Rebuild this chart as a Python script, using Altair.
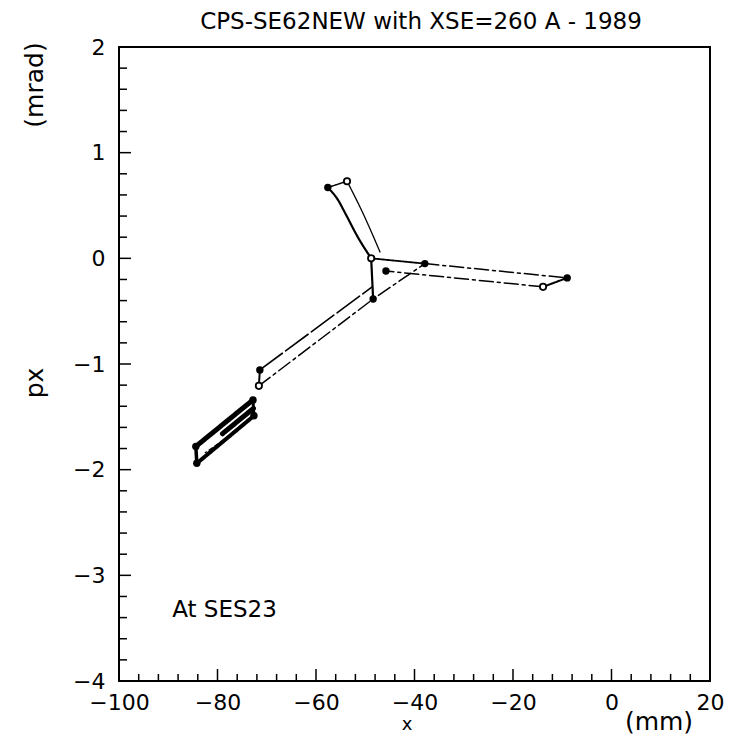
import altair as alt
import pandas as pd

# ---------------- data ----------------
# curved segments (smoothed)
thick_curve_x = [-57.6, -55.5, -54.1, -51.5, -48.8]
thick_curve_y = [0.67, 0.55, 0.43, 0.20, 0.0]
thin_curve_x = [-53.7, -50.5, -47.0]
thin_curve_y = [0.73, 0.43, 0.06]
# straight segments
stem_x = [-48.8, -48.4]
stem_y = [0.0, -0.385]
top_link_x = [-57.6, -53.7]
top_link_y = [0.67, 0.73]
right_a_x = [-48.8, -37.9]
right_a_y = [0.0, -0.05]
right_b_x = [-37.9, -9.0]
right_b_y = [-0.05, -0.185]
right_end_x = [-9.0, -13.9]
right_end_y = [-0.185, -0.27]
right_c_x = [-13.9, -45.8]
right_c_y = [-0.27, -0.12]
diag_up_x = [-71.4, -48.6]
diag_up_y = [-1.056, -0.27]
diag_low_x = [-71.6, -48.4, -37.9]
diag_low_y = [-1.207, -0.385, -0.05]
diag_link_x = [-71.4, -71.6]
diag_link_y = [-1.056, -1.207]
cluster_top_x = [-72.8, -84.4]
cluster_top_y = [-1.34, -1.78]
cluster_mid_x = [-72.7, -79.0]
cluster_mid_y = [-1.42, -1.66]
cluster_bot_x = [-72.6, -84.2]
cluster_bot_y = [-1.49, -1.94]
cluster_r_x = [-72.8, -72.6]
cluster_r_y = [-1.34, -1.49]
cluster_l_x = [-84.4, -84.2]
cluster_l_y = [-1.78, -1.94]
cluster_in_x = [-76.4, -82.5]
cluster_in_y = [-1.64, -1.84]

curves = [
    ("thick_curve", thick_curve_x, thick_curve_y, "solid", 2.2),
    ("thin_curve", thin_curve_x, thin_curve_y, "solid", 1.3),
]
segments = [
    ("stem", stem_x, stem_y, "solid", 2.2),
    ("top_link", top_link_x, top_link_y, "solid", 1.5),
    ("right_a", right_a_x, right_a_y, "solid", 1.8),
    ("right_b", right_b_x, right_b_y, "dashdot", 1.5),
    ("right_end", right_end_x, right_end_y, "solid", 2.0),
    ("right_c", right_c_x, right_c_y, "dashdot", 1.5),
    ("diag_up", diag_up_x, diag_up_y, "longdash", 1.6),
    ("diag_low", diag_low_x, diag_low_y, "dashdot", 1.5),
    ("diag_link", diag_link_x, diag_link_y, "solid", 2.0),
    ("cluster_top", cluster_top_x, cluster_top_y, "solid", 5.0),
    ("cluster_mid", cluster_mid_x, cluster_mid_y, "solid", 5.0),
    ("cluster_bot", cluster_bot_x, cluster_bot_y, "solid", 4.0),
    ("cluster_r", cluster_r_x, cluster_r_y, "solid", 3.0),
    ("cluster_l", cluster_l_x, cluster_l_y, "solid", 3.5),
    ("cluster_in", cluster_in_x, cluster_in_y, "dashed", 1.2),
]

# markers
filled_x = [-57.6, -37.9, -45.8, -9.0, -48.4, -71.4, -72.8, -72.6, -84.4, -84.2]
filled_y = [0.67, -0.05, -0.12, -0.185, -0.385, -1.056, -1.34, -1.49, -1.78, -1.94]
open_x = [-53.7, -13.9, -71.6, -48.8]
open_y = [0.73, -0.27, -1.207, 0.0]

# axes
x_ticks = [-100, -80, -60, -40, -20, 0, 20]
y_ticks = [-4, -3, -2, -1, 0, 1, 2]
x_minor = [v for v in range(-100, 21, 4) if v not in x_ticks]
y_minor = [round(-4 + 0.2 * k, 1) for k in range(31)]
y_minor = [v for v in y_minor if v not in y_ticks]

title_text = "CPS-SE62NEW with XSE=260 A - 1989"
note_text = ["At SES23"]
note_x = [-89.2]
note_y = [-3.39]


# ---------------- tables ----------------
def to_df(segs):
    rows = []
    for name, xs, ys, dash, w in segs:
        for i, (xv, yv) in enumerate(zip(xs, ys)):
            rows.append({"seg": name, "i": i, "x": xv, "y": yv, "dash": dash, "w": w})
    return pd.DataFrame(rows)


lines_df = to_df(segments)
curves_df = to_df(curves)
filled_df = pd.DataFrame({"x": filled_x, "y": filled_y})
open_df = pd.DataFrame({"x": open_x, "y": open_y})

W, H = 591, 634
FONT = "DejaVu Sans"

xscale = alt.Scale(domain=[-100, 20], nice=False, zero=False)
yscale = alt.Scale(domain=[-4, 2], nice=False, zero=False)

xaxis = alt.Axis(values=x_ticks, ticks=False, domain=False, grid=False, title=None,
                 labelFont=FONT, labelFontSize=22, labelColor="black",
                 labelPadding=11, labelFlush=False, labelOverlap=False)
yaxis = alt.Axis(values=y_ticks, ticks=False, domain=False, grid=False, title=None,
                 labelFont=FONT, labelFontSize=22, labelColor="black",
                 labelPadding=14, labelFlush=False, labelOverlap=False)


def X(field):
    return alt.X(field, scale=xscale, axis=xaxis)


def Y(field):
    return alt.Y(field, scale=yscale, axis=yaxis)


dash_enc = alt.StrokeDash(
    "dash:N",
    scale=alt.Scale(domain=["solid", "dashdot", "longdash", "dashed"],
                    range=[[1, 0], [14, 4, 3, 4], [28, 4], [4, 3]]),
    legend=None)

lines = alt.Chart(lines_df).mark_line(color="black", strokeCap="round").encode(
    x=X("x:Q"), y=Y("y:Q"), detail="seg:N", order="i:Q",
    strokeDash=dash_enc,
    strokeWidth=alt.StrokeWidth("w:Q", scale=None),
)

curve_lines = alt.Chart(curves_df).mark_line(color="black", strokeCap="round", interpolate="monotone").encode(
    x=X("x:Q"), y=Y("y:Q"), detail="seg:N", order="i:Q",
    strokeDash=dash_enc,
    strokeWidth=alt.StrokeWidth("w:Q", scale=None),
)

filled_pts = alt.Chart(filled_df).mark_point(
    filled=True, color="black", size=55, opacity=1
).encode(x=X("x:Q"), y=Y("y:Q"))

open_pts = alt.Chart(open_df).mark_point(
    filled=True, fill="white", stroke="black", strokeWidth=1.8, size=40, opacity=1
).encode(x=X("x:Q"), y=Y("y:Q"))

# inward tick marks
xmaj = alt.Chart(pd.DataFrame({"x": x_ticks})).mark_rule(color="black", strokeWidth=1.5).encode(
    x=X("x:Q"), y=alt.value(H), y2=alt.value(H - 12))
xmin = alt.Chart(pd.DataFrame({"x": x_minor})).mark_rule(color="black", strokeWidth=1.5).encode(
    x=X("x:Q"), y=alt.value(H), y2=alt.value(H - 7))
ymaj = alt.Chart(pd.DataFrame({"y": y_ticks})).mark_rule(color="black", strokeWidth=1.5).encode(
    y=Y("y:Q"), x=alt.value(0), x2=alt.value(12))
ymin = alt.Chart(pd.DataFrame({"y": y_minor})).mark_rule(color="black", strokeWidth=1.5).encode(
    y=Y("y:Q"), x=alt.value(0), x2=alt.value(8))

note = alt.Chart(pd.DataFrame({"t": note_text, "x": note_x, "y": note_y})).mark_text(
    font=FONT, fontSize=23, align="left", baseline="alphabetic", color="black"
).encode(x=X("x:Q"), y=Y("y:Q"), text="t:N")


def label(txt, x, y, size, angle=0):
    return alt.Chart(pd.DataFrame({"t": [txt]})).mark_text(
        font=FONT, fontSize=size, align="center", baseline="middle", color="black", angle=angle
    ).encode(text="t:N", x=alt.value(x), y=alt.value(y))


title = label(title_text, 302, -25, 23)
px_lbl = label("px", -84, 336, 25, 270)
mrad_lbl = label("(mrad)", -84, 38, 25, 270)
x_lbl = label("x", 288, 678, 18)
mm_lbl = label("(mm)", 540, 675, 25)

chart = alt.layer(
    lines, curve_lines, filled_pts, open_pts, xmaj, xmin, ymaj, ymin, note,
    title, px_lbl, mrad_lbl, x_lbl, mm_lbl
).properties(
    width=W, height=H, autosize="none",
    padding={"left": 119, "top": 47, "right": 21, "bottom": 59},
    background="white",
).configure_view(stroke="black", strokeWidth=2)

chart.save("out.html", embed_options={"renderer": "svg", "actions": False})
